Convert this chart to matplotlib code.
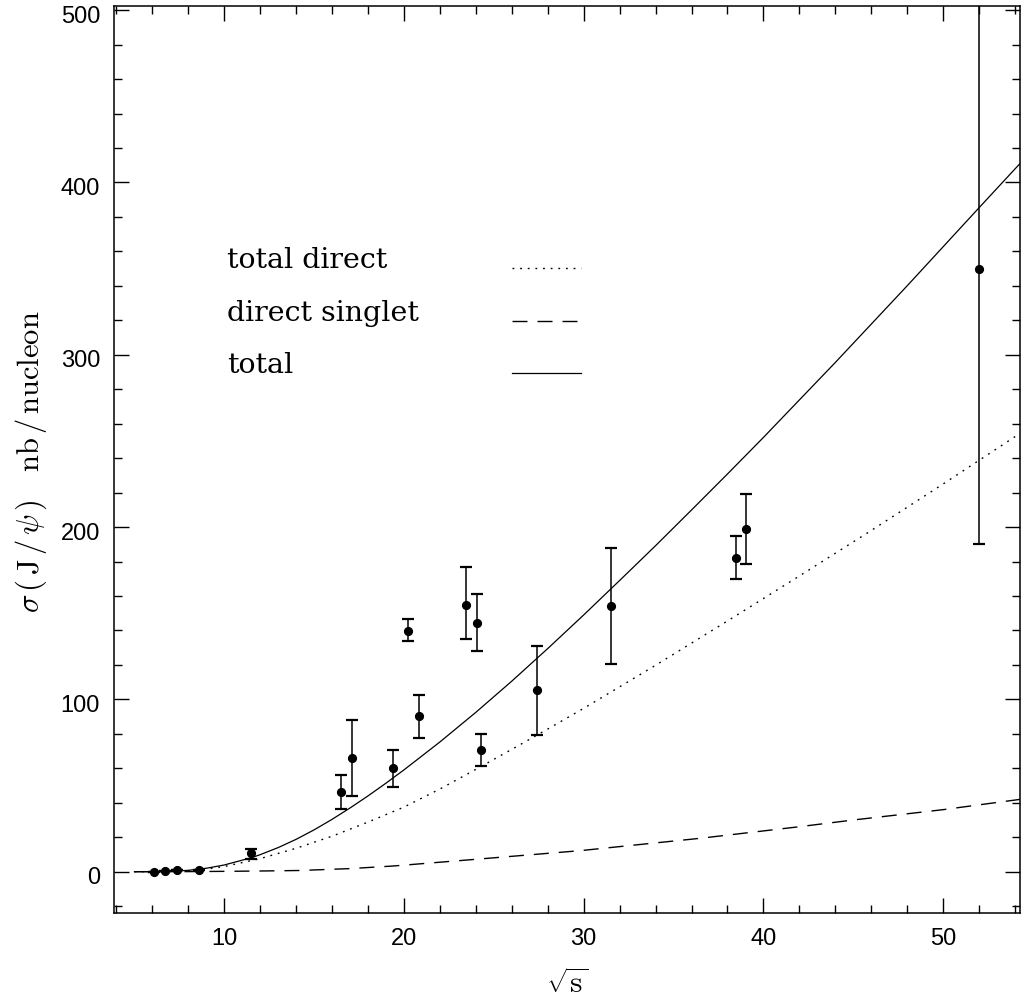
import numpy as np
import matplotlib
matplotlib.use("Agg")
import matplotlib.pyplot as plt
from matplotlib.ticker import MultipleLocator
import matplotlib.transforms as mtransforms

# ---------------- data ----------------
# measured J/psi cross sections
data_sqrt_s = [6.1, 6.72, 7.35, 8.6, 11.49, 16.48, 17.09, 19.39, 20.24, 20.85,
               23.43, 24.05, 24.3, 27.4, 31.54, 38.46, 39.05, 52.0]
data_sigma = [0.0, 0.3, 0.9, 1.1, 10.7, 46.3, 66.0, 60.0, 139.7, 90.2,
              155.0, 144.5, 70.8, 105.3, 154.2, 182.3, 199.0, 350.0]
data_upper = [0.0, 0.3, 0.9, 1.1, 13.4, 56.0, 88.0, 70.6, 146.5, 102.5,
              177.0, 161.4, 80.0, 131.0, 187.9, 194.8, 219.0, 560.0]
data_lower = [0.0, 0.3, 0.9, 1.1, 7.6, 36.6, 44.0, 49.2, 133.7, 77.8,
              135.0, 127.9, 61.3, 79.3, 120.5, 169.9, 178.8, 190.2]

# theory curves
total_x = [5.0, 6.0, 7.0, 8.0, 9.0, 10.0, 11.5, 12.0, 13.0, 14.0, 15.0, 16.0,
           17.0, 18.0, 19.0, 20.0, 22.0, 24.0, 26.0, 28.0, 30.0, 32.0, 34.0,
           36.0, 38.0, 40.0, 44.0, 48.0, 52.0, 54.3]
total_y = [0.0, 0.05, 0.2, 0.8, 2.0, 3.9, 8.1, 9.9, 14.0, 18.8, 24.3, 30.4,
           37.0, 44.0, 51.4, 59.1, 75.3, 92.5, 110.6, 129.5, 149.0, 169.0, 189.2,
           209.9, 230.8, 252.0, 295.5, 340.0, 385.3, 411.2]

direct_x = [5.0, 6.0, 7.0, 8.0, 9.0, 10.0, 12.0, 14.0, 16.0, 18.0, 20.0, 22.0,
            24.0, 26.0, 28.0, 30.0, 34.0, 38.0, 42.0, 46.0, 50.0, 54.3]
direct_y = [0.0, 0.03, 0.15, 0.5, 1.5, 3.0, 7.6, 13.6, 20.6, 28.8, 37.5, 48.0,
            59.4, 71.0, 82.8, 94.8, 119.8, 145.5, 171.6, 198.0, 225.0, 254.5]

singlet_x = [5.0, 8.0, 10.0, 12.0, 14.2, 17.0, 19.4, 24.0, 29.8, 36.5, 42.0, 45.0, 50.0, 54.3]
singlet_y = [0.0, 0.05, 0.2, 0.4, 0.7, 1.8, 3.3, 7.2, 12.2, 19.4, 26.1, 30.0, 36.0, 42.0]

legend_labels = ["total direct", "direct singlet", "total"]
x_major_ticks = [10, 20, 30, 40, 50]
y_major_ticks = [0, 100, 200, 300, 400, 500]

# ---------------- style ----------------
plt.rcParams['mathtext.fontset'] = 'cm'
plt.rcParams['lines.scale_dashes'] = False

fig = plt.figure(figsize=(10.22, 10.07), dpi=100)
ax = fig.add_axes([114 / 1022, 1 - 913 / 1007, 906 / 1022, 907 / 1007])

ax.set_xlim(3.862, 54.28)
ax.set_ylim(-23.97, 502.4)

l_direct, = ax.plot(direct_x, direct_y, color='black', lw=1.0, dashes=(1.3, 4.2))
l_singlet, = ax.plot(singlet_x, singlet_y, color='black', lw=1.0, dashes=(10.8, 7.2))
l_total, = ax.plot(total_x, total_y, color='black', lw=0.9)

ys = np.array(data_sigma)
yerr = [ys - np.array(data_lower), np.array(data_upper) - ys]
ax.errorbar(data_sqrt_s, data_sigma, yerr=yerr, fmt='o', color='black',
            ms=5.6, capsize=4.2, elinewidth=1.1, capthick=1.6, zorder=5)

ax.set_xticks(x_major_ticks)
ax.set_yticks(y_major_ticks)
ax.xaxis.set_minor_locator(MultipleLocator(2))
ax.yaxis.set_minor_locator(MultipleLocator(20))
ax.tick_params(which='both', direction='in', top=True, right=True, width=1.0,
               labelsize=17, colors='black')
ax.tick_params(which='major', length=11)
ax.tick_params(which='minor', length=5.6)
ax.tick_params(axis='x', pad=11)
ax.tick_params(axis='y', pad=10)
for lab in ax.get_xticklabels() + ax.get_yticklabels():
    lab.set_family('Liberation Sans')
off = mtransforms.ScaledTranslation(0, -4 / 100, fig.dpi_scale_trans)
for lab in ax.get_yticklabels():
    lab.set_transform(lab.get_transform() + off)
for sp in ax.spines.values():
    sp.set_linewidth(1.1)

# legend texts (left aligned) and sample lines
text_y = [0.7108, 0.6527, 0.5957]
for lbl, ty in zip(legend_labels, text_y):
    ax.text(0.1244, ty, lbl, transform=ax.transAxes, family='DejaVu Serif',
            fontsize=20.5, va='baseline', ha='left')
leg = ax.legend([l_direct, l_singlet, l_total], ['', '', ''], loc='center left',
                bbox_to_anchor=(0.4393, 0.6504), frameon=False, borderpad=0,
                borderaxespad=0, handlelength=2.42, handletextpad=0,
                labelspacing=0.9, prop={'family': 'DejaVu Serif', 'size': 20.5})

# axis labels
fig.text(31 / 1022, 1 - 462 / 1007,
         r'$\sigma\,(\,\mathrm{J}\,/\,\psi\,)\quad\mathrm{nb}\,/\,\mathrm{nucleon}$',
         rotation=90, ha='center', va='center', fontsize=22)
fig.text(567 / 1022, 1 - 985 / 1007, r'$\sqrt{\mathrm{s}}$',
         ha='center', va='center', fontsize=23)

fig.savefig('out.png', dpi=100)
